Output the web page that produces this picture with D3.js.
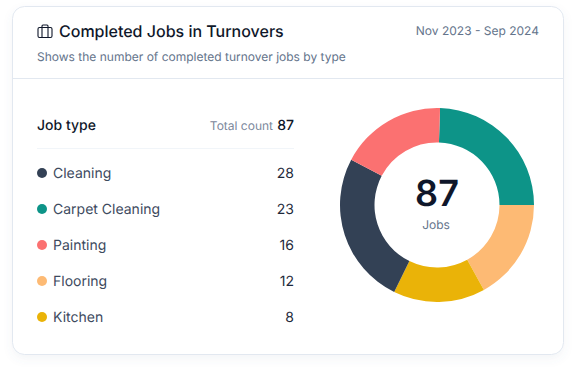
<!DOCTYPE html>
<html>
<head>
<meta charset="utf-8">
<script src="https://cdn.jsdelivr.net/npm/d3@7"></script>
<style>
  html, body { margin: 0; padding: 0; background: #fff; overflow: hidden; }
  svg { display: block; }
  text { font-family: Inter, "Noto Sans", sans-serif; text-rendering: geometricPrecision; }
</style>
</head>
<body>
<svg></svg>
<script>
const categories = ['Cleaning', 'Carpet Cleaning', 'Painting', 'Flooring', 'Kitchen'];
const counts = [28, 23, 16, 12, 8];
const colors = ['#334155', '#0d9488', '#fb7171', '#fdba74', '#eab308'];
// the ring in the picture is not proportional to the counts, so its
// slices are read off separately (degrees, clockwise)
const ringOrder = ['Carpet Cleaning', 'Flooring', 'Kitchen', 'Cleaning', 'Painting'];
const ringSpans = [88.2, 61.1, 55.1, 91.6, 64];
const ringStart = 1.8;
const totalCount = 87;

const [width, height] = [576, 374];
const [cx, cy] = [437, 205];
const [outer, inner] = [97, 62.5];
const [left, right] = [37, 294];

const svg = d3.select('svg')
  .attr('width', width)
  .attr('height', height);

const defs = svg.append('defs');
const shadow = defs.append('filter')
  .attr('id', 'shadow')
  .attr('x', '-10%').attr('y', '-10%')
  .attr('width', '120%').attr('height', '125%');
shadow.append('feDropShadow')
  .attr('dx', 0).attr('dy', 4)
  .attr('stdDeviation', 5)
  .attr('flood-color', '#64748b')
  .attr('flood-opacity', 0.07);

svg.append('rect')
  .attr('x', 12.5).attr('y', 6.5)
  .attr('width', 551).attr('height', 348)
  .attr('rx', 12)
  .attr('fill', '#fff')
  .attr('stroke', '#e2e8f0')
  .attr('filter', 'url(#shadow)');

svg.append('path')
  .attr('d', `M13,78.5 H563`)
  .attr('stroke', '#e2e8f0');

// briefcase icon
const icon = svg.append('g')
  .attr('transform', 'translate(37, 24)')
  .attr('fill', 'none')
  .attr('stroke', '#0f172a')
  .attr('stroke-width', 1.1);
icon.append('rect').attr('x', 1).attr('y', 3.5).attr('width', 14).attr('height', 10).attr('rx', 1.5);
icon.append('path').attr('d', 'M5,13.5 V2 Q5,1 6,1 H10 Q11,1 11,2 V13.5');

const label = (x, y, str, size, fill, anchor = 'start', weight = 400) => svg.append('text')
  .attr('x', x).attr('y', y)
  .attr('font-size', size)
  .attr('font-weight', weight)
  .attr('fill', fill)
  .attr('text-anchor', anchor)
  .text(str);

label(59, 37, 'Completed Jobs in Turnovers', 16, '#0f172a', 'start', 500);
label(539, 35, 'Nov 2023 - Sep 2024', 12, '#64748b', 'end');
label(37, 61, 'Shows the number of completed turnover jobs by type', 12, '#64748b');

label(left, 130, 'Job type', 14, '#0f172a', 'start', 500);
label(right, 130, totalCount, 14, '#0f172a', 'end', 500);
label(273, 130, 'Total count', 12, '#7b879b', 'end');
svg.append('path')
  .attr('d', `M${left},148.5 H${right}`)
  .attr('stroke', '#f1f5f9');

const y = d3.scalePoint()
  .domain(categories)
  .range([173, 317]);
const color = d3.scaleOrdinal(categories, colors);

const rows = svg.append('g')
  .selectAll('g')
  .data(categories)
  .join('g')
  .attr('transform', d => `translate(0, ${y(d)})`);
rows.append('circle')
  .attr('cx', 42)
  .attr('r', 5)
  .attr('fill', d => color(d));
rows.append('text')
  .attr('x', 53)
  .attr('y', 5)
  .attr('font-size', 14)
  .attr('fill', '#3d4a5e')
  .text(d => d);
rows.append('text')
  .attr('x', right)
  .attr('y', 5)
  .attr('font-size', 14)
  .attr('fill', '#1e293b')
  .attr('text-anchor', 'end')
  .text((d, i) => counts[i]);

const toRad = d => d / 180 * Math.PI;
const pie = d3.pie()
  .sort(null)
  .startAngle(toRad(ringStart))
  .endAngle(toRad(ringStart + 360))
  .value((d, i) => ringSpans[i]);
const arc = d3.arc().innerRadius(inner).outerRadius(outer);
const ring = svg.append('g')
  .attr('transform', `translate(${cx}, ${cy})`);
ring.selectAll('path')
  .data(pie(ringOrder))
  .join('path')
  .attr('d', arc)
  .attr('fill', d => color(d.data));

label(cx, 206, totalCount, 36, '#0f172a', 'middle', 600);
label(cx - 1, 229, 'Jobs', 12, '#64748b', 'middle');
</script>
</body>
</html>
